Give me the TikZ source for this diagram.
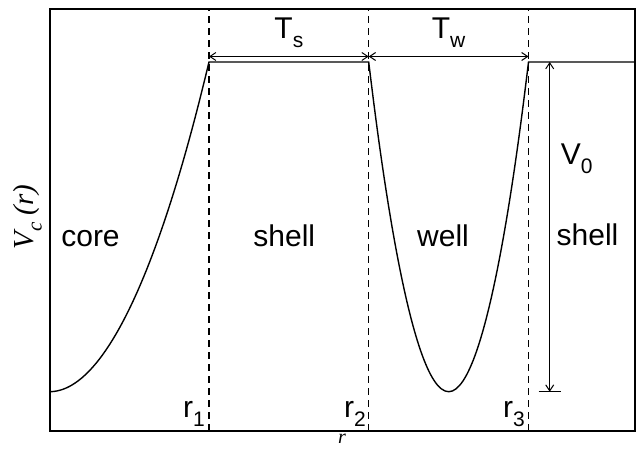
\documentclass[tikz,border=0pt]{standalone}
\usepackage{fontspec}
\setmainfont{Liberation Sans}
\newfontfamily\serifit{Liberation Serif}
\usetikzlibrary{arrows.meta,calc}
\newcommand{\lowsub}[1]{\raisebox{-0.3em}{\fontsize{21}{21}\selectfont #1}}

\begin{document}
\begin{tikzpicture}[
    x=1pt, y=1pt,
    >={Straight Barb[length=6pt,width=8pt]},
    every node/.style={font=\fontsize{30}{36}\selectfont, inner sep=0pt},
    frame/.style={line width=2pt},
    curve/.style={line width=1.4pt},
    divider/.style={line width=1.1pt, dash pattern=on 7pt off 5pt},
    dimarrow/.style={<->, line width=1pt},
    axislabel/.style={font=\fontsize{29}{32}\selectfont\serifit\itshape},
]
\clip (0,0) rectangle (636,448);

% ---- Frame ----
\coordinate (bl) at (49.5,17.3);
\coordinate (tr) at (634.5,439);
\draw[frame] (bl) rectangle (tr);

% ---- Region boundaries ----
\coordinate (r1) at (209,0);
\coordinate (r2) at (368.7,0);
\coordinate (r3) at (528.5,0);
\foreach \r in {r1,r2,r3}
    \draw[divider] (\r |- bl) -- (\r |- tr);

% ---- Potential ----
\coordinate (origin) at (49.5,56.3);
\coordinate (top1) at (209,386);
\coordinate (top2) at (368.7,386);
\coordinate (wellmin) at (448.7,56.3);
\coordinate (top3) at (528.5,386);
\coordinate (outer) at (634.5,386);
\draw[curve] (origin) parabola[bend at start] (top1) -- (top2)
    parabola bend (wellmin) (top3) -- (outer);

% ---- Widths and depth ----
\coordinate (ts1) at (209,391.5);
\coordinate (ts2) at (368.7,391.5);
\coordinate (tw2) at (528.5,391.5);
\draw[dimarrow] (ts1) -- (ts2);
\draw[dimarrow] (ts2) -- (tw2);

\coordinate (vtop) at (549.7,386);
\coordinate (vbot) at (549.7,56.3);
\draw[dimarrow] (vtop) -- (vbot);
\draw[line width=1pt] ([xshift=-11pt]vbot) -- ([xshift=11pt]vbot);

% ---- Labels ----
\node[anchor=base] (tslabel) at (288.9,409) {T\lowsub{s}};
\node[anchor=base] (twlabel) at (448.6,409) {T\lowsub{w}};
\node[anchor=base west] (vlabel) at (560.7,284) {V\lowsub{0}};

\node[anchor=base] (core) at (90.5,202) {core};
\node[anchor=base] (shell1) at (284.3,202) {shell};
\node[anchor=base] (well) at (443,202) {well};
\node[anchor=base] (shell2) at (587.5,203) {shell};

\node[anchor=base east] (r1label) at (205,31) {r\lowsub{1}};
\node[anchor=base east] (r2label) at (366,31) {r\lowsub{2}};
\node[anchor=base east] (r3label) at (525,31) {r\lowsub{3}};

\node[axislabel, rotate=90, anchor=base] (ylabel) at (33,231) {V\lowsub{c} (r)};
\node[axislabel, font=\fontsize{20}{22}\selectfont\serifit\itshape, anchor=base] (xlabel) at (342,5) {r};

\end{tikzpicture}
\end{document}
